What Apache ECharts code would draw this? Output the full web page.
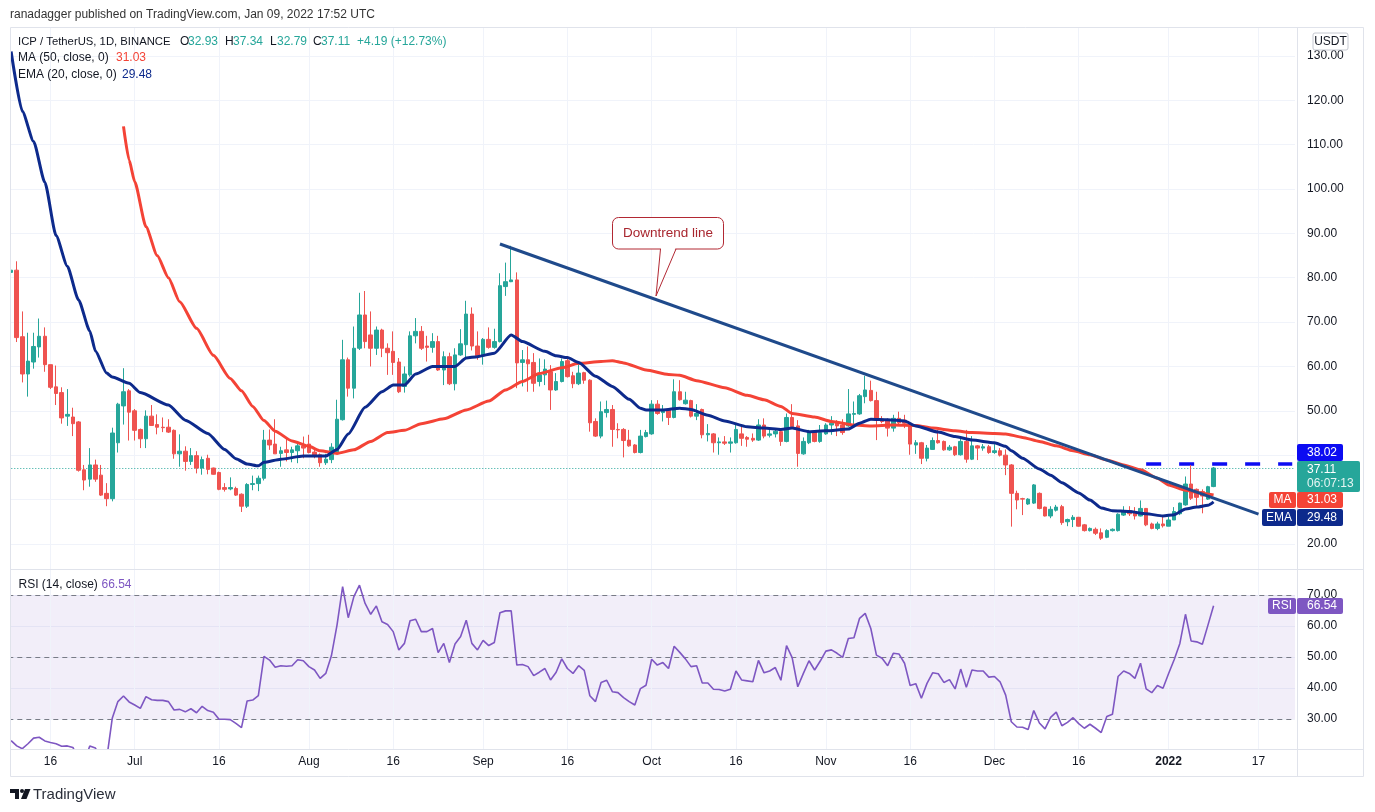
<!DOCTYPE html>
<html>
<head>
<meta charset="utf-8">
<title>ICP / TetherUS 1D</title>
<script src="https://cdn.jsdelivr.net/npm/echarts@6.0.0/dist/echarts.min.js"></script>
<style>
  html, body { margin: 0; padding: 0; background: #fff; }
  #chart { width: 1375px; height: 812px; }
</style>
</head>
<body>
<div id="chart"></div>
<script>
// day index 0 = 2021-06-09, last candle 2022-01-09 (index 214), axis runs on to 2022-01-23
const totalDays = 229;

// candles: [open, close, low, high]
const candles = [
  [81.2,81.7,77.3,89.0],[81.7,66.5,65.5,83.7],[66.7,58.3,56.4,72.4],[58.3,61.2,53.2,67.6],[61.0,64.5,59.5,67.6],
  [64.4,66.8,62.0,70.8],[66.8,60.4,58.8,68.8],[60.4,55.3,54.9,60.4],[55.4,53.9,51.3,60.2],[54.1,48.4,47.1,55.3],
  [48.8,49.2,46.6,54.9],[48.6,47.1,44.3,50.7],[47.5,36.6,36.3,47.7],[36.7,34.4,32.1,37.8],[34.6,37.8,32.9,41.6],
  [37.8,34.6,34.0,39.0],[35.5,31.0,30.8,37.8],[31.4,30.2,28.5,33.7],[30.2,45.0,29.6,46.2],[42.8,51.5,40.6,51.8],
  [51.1,54.3,46.9,59.6],[54.5,49.7,43.3,54.9],[50.0,45.6,43.3,50.4],[45.8,43.7,41.6,46.0],[43.7,48.8,41.6,50.1],
  [48.8,46.7,46.6,51.3],[46.9,46.3,44.7,49.2],[46.3,46.2,45.2,48.5],[46.3,45.2,45.0,48.1],[45.6,40.3,39.2,45.8],
  [40.3,40.9,37.4,44.7],[40.9,38.6,36.5,42.0],[38.6,39.9,37.8,41.6],[39.9,37.1,35.9,40.9],[37.1,39.0,35.6,39.7],
  [39.3,36.8,35.7,40.1],[37.1,35.7,35.6,37.2],[36.1,32.3,32.1,36.3],[32.7,32.3,31.8,33.7],[32.4,32.7,32.1,35.0],
  [32.5,31.0,30.8,32.9],[31.2,28.5,27.2,31.4],[28.5,33.4,28.1,33.7],[33.4,33.6,32.1,35.4],[33.6,34.8,31.9,35.4],
  [34.8,43.4,34.3,45.7],[43.4,42.3,41.2,45.8],[42.5,40.3,40.3,48.1],[40.4,41.0,37.4,41.9],[41.2,40.6,38.6,43.8],
  [40.6,41.2,38.4,41.9],[41.0,42.1,38.2,43.1],[42.1,41.6,39.3,44.2],[42.5,40.6,40.4,44.6],[40.7,39.8,39.3,41.2],
  [40.1,38.3,37.4,40.4],[38.3,39.1,37.8,40.3],[39.0,41.8,38.2,42.7],[40.6,48.1,40.4,52.5],[48.0,61.5,47.8,66.0],
  [61.5,55.1,53.2,62.0],[55.1,64.1,52.8,69.0],[64.1,71.6,63.7,76.6],[71.6,65.6,64.1,77.0],[67.1,64.1,60.0,72.4],
  [64.1,68.2,62.6,69.0],[68.2,64.1,62.1,68.5],[64.1,63.1,58.1,65.2],[63.4,60.9,58.1,67.9],[61.0,54.3,54.0,61.9],
  [55.5,58.3,54.1,60.0],[58.1,66.9,57.7,67.9],[66.9,67.9,65.2,70.9],[67.9,64.1,63.7,69.1],[64.6,64.3,61.1,66.9],
  [64.3,65.6,63.1,67.5],[65.6,59.2,59.0,66.9],[59.2,62.2,55.8,63.4],[62.2,56.1,55.8,63.1],[56.1,62.6,54.6,64.1],
  [62.6,65.1,62.4,68.4],[64.9,71.8,61.9,74.8],[71.8,64.6,63.6,73.3],[64.6,62.4,61.5,67.9],[62.4,66.1,60.4,66.4],
  [66.1,64.3,64.0,68.8],[64.3,65.6,64.0,68.5],[65.6,78.2,65.4,81.0],[78.0,79.1,75.9,83.4],[79.1,79.5,79.0,87.2],
  [79.5,60.8,55.1,81.2],[60.9,61.5,55.5,63.7],[61.5,60.6,54.3,64.5],[60.9,56.2,54.3,63.0],[56.6,58.1,55.5,61.8],
  [58.1,59.4,55.8,61.6],[58.8,54.7,50.2,60.3],[54.7,56.6,54.5,58.5],[56.6,61.1,56.4,61.8],[61.3,57.7,57.5,61.8],
  [57.9,56.1,55.1,58.8],[56.1,58.5,55.8,61.1],[58.6,56.9,56.1,58.8],[56.9,47.3,45.3,57.1],[47.6,44.3,44.1,48.3],
  [44.3,49.8,43.8,52.1],[49.6,50.3,48.5,52.3],[50.3,45.8,41.9,51.3],[45.8,45.7,43.8,47.2],[45.8,43.3,39.5,46.1],
  [43.4,42.1,41.9,45.7],[42.3,40.6,40.4,42.5],[40.6,44.3,40.4,45.7],[44.2,45.1,44.0,45.7],[44.8,51.5,44.6,52.4],
  [51.5,49.4,49.1,52.4],[49.6,50.3,47.6,51.3],[50.3,48.5,46.8,50.5],[48.5,54.3,48.3,57.1],[54.3,52.5,52.3,56.9],
  [51.6,52.4,51.4,54.3],[52.3,48.8,48.5,52.5],[48.8,49.4,47.9,51.5],[50.3,44.6,43.8,50.5],[44.6,44.9,43.1,47.0],
  [44.8,42.8,40.6,45.0],[42.8,43.0,40.1,44.0],[43.0,42.7,42.3,44.3],[42.7,43.0,40.6,44.0],[42.8,45.8,42.6,47.0],
  [44.8,43.8,42.1,46.4],[44.0,43.6,41.9,44.3],[43.8,43.4,43.0,44.9],[43.4,46.8,43.2,48.1],[46.8,44.3,43.8,48.3],
  [44.5,44.8,44.0,46.1],[44.8,45.4,44.0,46.1],[45.3,43.1,42.1,45.5],[43.1,48.5,42.9,49.4],[48.5,46.4,46.2,51.5],
  [46.6,40.4,37.4,47.9],[40.3,43.1,40.1,44.0],[42.8,45.3,42.5,45.7],[45.3,43.1,42.9,45.5],[43.1,45.1,42.8,46.8],
  [44.8,46.8,44.6,47.2],[46.8,47.2,44.6,48.8],[47.3,46.6,44.3,47.9],[46.8,45.1,44.6,48.1],[46.6,49.3,46.4,54.9],
  [49.2,49.4,46.4,52.1],[49.3,53.4,49.1,53.8],[53.2,54.7,51.7,57.9],[54.6,52.3,52.1,56.8],[52.3,47.9,43.4,54.3],
  [48.1,47.6,47.2,48.8],[47.8,46.1,44.2,48.3],[46.1,48.3,45.3,49.1],[48.3,47.3,46.8,49.8],[47.9,47.2,46.1,49.1],
  [47.2,42.5,40.1,47.4],[42.3,42.8,40.3,43.4],[42.8,39.3,38.0,43.0],[39.3,41.6,38.6,42.3],[41.3,43.3,41.2,44.0],
  [43.3,42.8,42.6,45.7],[43.1,41.2,41.0,43.3],[41.2,41.8,41.0,42.3],[41.9,40.1,39.8,42.1],[40.1,43.1,39.9,44.0],
  [43.1,39.1,38.3,45.7],[39.1,42.1,38.9,44.3],[42.1,41.6,38.9,42.3],[41.6,41.9,41.0,42.5],[41.9,40.6,40.3,42.3],
  [40.6,41.0,40.3,42.5],[41.0,40.0,39.7,41.6],[40.0,37.8,35.5,41.3],[37.8,31.4,23.9,38.0],[31.4,29.9,27.8,32.0],
  [30.2,30.1,26.5,30.4],[29.0,30.1,28.8,30.3],[29.2,33.3,29.0,33.5],[31.4,28.0,27.8,31.6],[28.3,26.3,26.2,28.4],
  [26.3,27.8,25.8,28.5],[27.6,28.3,27.3,28.8],[28.4,24.8,24.3,28.8],[25.0,25.5,24.0,25.7],[25.5,26.0,23.8,26.5],
  [26.0,24.0,23.9,26.1],[24.3,23.0,22.8,24.5],[23.0,23.5,22.8,23.7],[23.3,22.4,22.0,23.7],[22.5,21.3,20.9,23.5],
  [21.5,23.0,21.3,23.3],[23.0,23.3,22.8,23.5],[23.0,26.7,22.8,26.9],[26.5,27.5,26.3,28.5],[27.5,26.8,26.3,28.5],
  [27.3,26.3,25.5,28.3],[26.3,28.0,26.2,29.8],[28.0,24.3,24.0,28.1],[24.5,23.5,23.3,24.8],[23.5,24.5,23.1,25.0],
  [24.5,24.1,23.7,26.5],[24.0,25.4,24.0,26.2],[25.4,27.3,25.4,28.3],[26.8,29.2,26.5,29.3],[28.8,33.5,28.6,35.2],
  [33.5,30.3,29.9,37.8],[32.3,30.5,28.6,32.5],[31.8,30.8,26.9,32.3],[30.1,32.9,29.9,33.1],[32.93,37.11,32.79,37.34]
];

// MA (50, close): [day index, value]
const maLine = [
  [20,114.1],[21,106.5],[22,101.6],[24,91.5],[26,85.0],[28,80.0],[30,74.6],[33,68.6],[36,62.5],[39,57.3],
  [41,54.5],[43,51.0],[45,47.8],[47,45.4],[50,43.2],[53,42.0],[55,41.0],[58,40.4],[61,41.2],[64,43.1],
  [67,45.1],[70,45.6],[73,47.1],[77,48.2],[81,50.2],[85,52.2],[88,54.7],[91,56.6],[94,58.4],[98,59.7],
  [101,60.7],[105,61.1],[107,61.3],[109,60.8],[113,59.2],[117,58.2],[119,58.0],[122,56.8],[127,55.2],[131,53.5],
  [134,52.5],[137,51.0],[139,49.4],[143,48.6],[146,47.6],[150,46.8],[153,46.6],[157,46.8],[161,46.7],[164,46.1],
  [168,45.5],[171,45.1],[175,44.9],[177,44.8],[180,44.0],[183,43.1],[186,42.1],[189,41.0],[192,40.1],[195,38.9],
  [198,37.8],[201,36.7],[204,34.8],[206,33.3],[209,32.1],[211,31.6],[214,31.03]
];

// EMA (20, close): [day index, value]
const emaLine = [
  [0,131.0],[2,117.5],[4,110.7],[6,101.5],[8,89.5],[10,82.6],[12,75.0],[14,68.0],[15,63.5],[17,58.5],
  [18,57.6],[21,56.2],[23,54.1],[28,51.3],[31,47.9],[35,44.9],[38,41.3],[40,39.2],[42,38.0],[44,37.6],
  [45,38.4],[48,39.1],[52,39.8],[56,39.8],[58,41.3],[60,44.8],[63,50.8],[66,54.3],[68,55.8],[70,55.8],
  [72,58.3],[75,60.0],[79,60.0],[81,61.9],[83,62.2],[86,63.0],[89,67.1],[91,65.6],[95,63.4],[97,62.4],
  [99,62.0],[101,60.9],[104,57.8],[107,55.5],[110,52.6],[112,50.6],[113,50.2],[116,50.2],[119,50.6],[121,50.3],
  [124,49.0],[127,47.7],[131,46.4],[134,46.1],[137,45.8],[139,46.1],[142,45.3],[145,45.5],[149,45.9],[151,47.2],
  [153,48.1],[156,48.0],[159,47.7],[161,46.6],[165,45.2],[168,44.2],[171,43.4],[175,42.8],[177,42.0],[178,41.0],
  [180,39.3],[183,36.9],[185,35.5],[187,33.8],[190,31.5],[192,29.9],[194,28.1],[196,27.5],[199,27.3],[202,26.8],
  [205,26.3],[207,26.6],[209,27.9],[211,28.3],[213,28.7],[214,29.48]
];

// RSI (14, close), one value per candle
const rsiValues = [
  23.0,21.3,20.4,22.0,23.8,24.1,22.9,22.4,22.0,21.2,21.3,20.8,17.0,16.0,21.3,20.6,17.5,17.0,
  30.2,35.6,37.4,35.5,34.5,33.4,37.2,36.2,36.0,36.0,35.6,32.9,33.1,32.3,33.3,32.0,34.1,32.7,32.2,29.9,29.9,29.8,28.6,27.2,35.8,36.1,37.5,
  50.2,49.0,46.7,47.2,47.0,47.2,49.1,48.8,46.9,45.8,43.1,44.7,50.4,60.3,72.7,62.7,69.5,73.2,67.3,63.8,
  66.5,61.4,60.5,58.2,52.3,54.4,61.7,62.2,58.2,58.2,59.2,51.4,54.4,48.2,54.2,56.6,61.9,54.4,52.3,55.4,53.7,54.7,64.3,64.9,64.9,
  47.4,47.6,46.9,44.0,45.1,46.3,42.6,45.1,49.4,46.3,44.7,47.2,45.7,37.5,35.6,41.8,42.5,38.8,38.5,36.9,35.6,34.5,
  39.8,40.9,49.3,47.4,48.2,46.3,53.5,51.5,49.4,46.9,
  47.2,41.6,41.6,39.6,39.5,39.0,39.6,45.5,42.6,42.3,
  42.0,48.9,44.9,45.5,46.6,42.5,53.7,49.8,40.4,44.7,
  48.8,45.8,48.7,51.9,52.3,51.2,49.9,56.0,56.2,62.5,
  64.1,59.2,50.6,49.6,47.2,51.2,51.0,48.0,40.8,41.4,
  36.7,41.5,44.9,44.6,41.8,42.7,39.7,46.1,40.2,45.8,
  45.5,45.5,43.5,43.7,42.0,37.7,29.1,27.4,27.3,26.6,
  32.7,28.7,26.8,30.5,32.2,27.8,28.9,30.4,28.5,27.0,
  28.3,27.0,25.6,30.8,31.5,43.7,45.5,44.7,43.1,48.0,
  39.7,38.5,40.8,39.9,44.7,49.2,54.4,63.8,55.2,54.9,
  54.1,60.3,66.54
];

// hand-drawn downtrend line, two anchor points
const trendLine = [[87, 87.6], [222, 26.7]];
const resistance = 38.02;
const lastPrice = 37.11;

const tickDays = [7, 22, 37, 53, 68, 84, 99, 114, 129, 145, 160, 175, 190, 206, 222];
const tickLabels = ['16', 'Jul', '16', 'Aug', '16', 'Sep', '16', 'Oct', '16', 'Nov', '16', 'Dec', '16', '2022', '17'];
const priceGrid = [20, 30, 40, 50, 60, 70, 80, 90, 100, 110, 120, 130];
const priceLabels = [20, 50, 60, 70, 80, 90, 100, 110, 120, 130];
const rsiTicks = [30, 40, 50, 60, 70];

const UP = '#26a69a', DOWN = '#ef5350';
const MA_COLOR = '#f44336', EMA_COLOR = '#0d2a8c', RSI_COLOR = '#7e57c2';
const GRID_COLOR = '#f0f3fa', TEXT = '#131722';
const FONT = '"Liberation Sans", Arial, sans-serif';

const categories = [];
for (let i = 0; i < totalDays; i++) {
  const t = new Date(Date.UTC(2021, 5, 9 + i));
  categories.push(t.toISOString().slice(0, 10));
}

const chart = echarts.init(document.getElementById('chart'));

function txt(x, y, text, fill, opts) {
  opts = opts || {};
  return {
    type: 'text', x: x, y: y, z: 100,
    style: {
      text: text, fill: fill,
      font: (opts.weight || 'normal') + ' ' + (opts.size || 12) + 'px ' + FONT,
      align: opts.align || 'left', verticalAlign: 'middle'
    }
  };
}
function box(x, y, w, h, fill, stroke) {
  return {
    type: 'rect', z: 99,
    shape: { x: x, y: y, width: w, height: h, r: 2 },
    style: { fill: fill, stroke: stroke || null }
  };
}
function seg(x1, y1, x2, y2, color, width, z) {
  return { type: 'line', z: z || 98, shape: { x1: x1, y1: y1, x2: x2, y2: y2 }, style: { stroke: color, lineWidth: width || 1 } };
}
function poly(points, fill, z) {
  return { type: 'polygon', z: z || 99, shape: { points: points }, style: { fill: fill } };
}

const graphics = [
  // mask the sliver left of the frame
  { type: 'rect', z: 97, shape: { x: 0, y: 27, width: 10.5, height: 750 }, style: { fill: '#fff' } },
  txt(10, 15, 'ranadagger published on TradingView.com, Jan 09, 2022 17:52 UTC', '#333'),
  { type: 'rect', z: 98, shape: { x: 10.5, y: 27.5, width: 1353, height: 749 }, style: { fill: null, stroke: '#e0e3eb' } },
  seg(10, 569.5, 1364, 569.5, '#e0e3eb'),
  seg(10, 749.5, 1364, 749.5, '#e0e3eb'),
  seg(1297.5, 27, 1297.5, 777, '#e0e3eb'),

  // legend
  txt(18, 42, 'ICP / TetherUS, 1D, BINANCE', TEXT, { size: 11.3 }),
  txt(180, 42, 'O', TEXT), txt(188, 42, '32.93', UP),
  txt(225, 42, 'H', TEXT), txt(233, 42, '37.34', UP),
  txt(270, 42, 'L', TEXT), txt(277, 42, '32.79', UP),
  txt(313, 42, 'C', TEXT), txt(321, 42, '37.11', UP),
  txt(357, 42, '+4.19 (+12.73%)', UP),
  txt(18, 58, 'MA (50, close, 0)', TEXT), txt(116, 58, '31.03', MA_COLOR),
  txt(18, 74.5, 'EMA (20, close, 0)', TEXT), txt(122, 74.5, '29.48', EMA_COLOR),
  txt(18.5, 585, 'RSI (14, close)', TEXT), txt(101.5, 585, '66.54', RSI_COLOR),

  // price scale badges
  box(1313, 33, 35, 17, '#fff', '#c5c8d0'), txt(1330.5, 41.5, 'USDT', TEXT, { align: 'center' }),
  box(1297, 444, 46, 17, '#0c0cf2'), txt(1307, 452.5, '38.02', '#fff'),
  box(1297, 461, 63, 31, UP), txt(1307, 469.5, '37.11', '#fff'), txt(1307, 484, '06:07:13', '#e6f5f3'),
  box(1269, 492, 27, 16, MA_COLOR), txt(1282.5, 500, 'MA', '#fff', { align: 'center' }),
  box(1297, 492, 46, 16, MA_COLOR), txt(1307, 500, '31.03', '#fff'),
  box(1262, 509, 34, 17, EMA_COLOR), txt(1279, 517.5, 'EMA', '#fff', { align: 'center' }),
  box(1297, 509, 46, 17, EMA_COLOR), txt(1307, 517.5, '29.48', '#fff'),
  box(1268, 598, 28, 16, RSI_COLOR), txt(1282, 606, 'RSI', '#fff', { align: 'center' }),
  box(1297, 598, 46, 16, RSI_COLOR), txt(1307, 606, '66.54', '#fff'),

  // callout
  { type: 'rect', z: 99, shape: { x: 612.5, y: 217.5, width: 111, height: 31.5, r: 6 }, style: { fill: '#fff', stroke: '#b22833', lineWidth: 1 } },
  poly([[661, 248], [675.5, 248], [656.5, 294]], '#fff', 100),
  { type: 'polyline', z: 101, shape: { points: [[660.5, 249], [656, 296], [676, 249]] }, style: { stroke: '#b22833', lineWidth: 1, fill: null } },
  txt(668, 233.5, 'Downtrend line', '#a8262f', { align: 'center', size: 13.5 }),

  // footer logo
  poly([[10, 789], [19, 789], [19, 799], [15, 799], [15, 793], [10, 793]], '#131722'),
  { type: 'circle', z: 99, shape: { cx: 22, cy: 791, r: 2 }, style: { fill: '#131722' } },
  poly([[25, 789], [30.5, 789], [26.5, 799], [21, 799]], '#131722'),
  txt(33, 795, 'TradingView', '#2a2e39', { size: 15 })
];

const vGrid = tickDays.map(d => ({ xAxis: d }));

chart.setOption({
  animation: false,
  backgroundColor: '#fff',
  textStyle: { fontFamily: FONT },
  grid: [
    { left: 8.3, top: 27, width: 1286.75, height: 542, outerBoundsMode: 'none' },
    { left: 8.3, top: 570, width: 1286.75, height: 179, outerBoundsMode: 'none' }
  ],
  xAxis: [
    {
      type: 'category', gridIndex: 0, data: categories, boundaryGap: true,
      axisLine: { show: false }, axisTick: { show: false }, axisLabel: { show: false }, splitLine: { show: false }
    },
    {
      type: 'category', gridIndex: 1, data: categories, boundaryGap: true,
      axisLine: { show: false }, axisTick: { show: false }, splitLine: { show: false },
      axisLabel: {
        color: TEXT, fontSize: 12, margin: 7, fontFamily: FONT,
        interval: (index) => tickDays.includes(index),
        formatter: (value, index) => {
          const k = tickDays.indexOf(index);
          if (k < 0) return '';
          return tickLabels[k] === '2022' ? '{b|2022}' : tickLabels[k];
        },
        rich: { b: { fontWeight: 'bold', fontSize: 12, color: TEXT, fontFamily: FONT } }
      }
    }
  ],
  yAxis: [
    {
      type: 'value', gridIndex: 0, position: 'right', min: 14.35, max: 136.5,
      axisLine: { show: false },
      axisTick: { show: false, customValues: priceGrid },
      axisLabel: {
        customValues: priceLabels, color: TEXT, fontSize: 12, margin: 12, align: 'left',
        formatter: v => v.toFixed(2)
      },
      splitLine: { show: true, lineStyle: { color: GRID_COLOR, width: 1 } }
    },
    {
      type: 'value', gridIndex: 1, position: 'right', min: 20.3, max: 78.1,
      axisLine: { show: false },
      axisTick: { show: false, customValues: rsiTicks },
      axisLabel: {
        customValues: rsiTicks, color: TEXT, fontSize: 12, margin: 12, align: 'left',
        formatter: v => v.toFixed(2)
      },
      splitLine: { show: true, lineStyle: { color: GRID_COLOR, width: 1 } }
    }
  ],
  series: [
    {
      name: 'gridTop', type: 'line', xAxisIndex: 0, yAxisIndex: 0, data: [], silent: true,
      markLine: {
        z: 1, silent: true, symbol: 'none', label: { show: false },
        lineStyle: { color: GRID_COLOR, width: 1, type: 'solid' },
        data: vGrid
      }
    },
    {
      name: 'ICP', type: 'candlestick', xAxisIndex: 0, yAxisIndex: 0, data: candles, barWidth: 4, z: 2,
      itemStyle: { color: UP, color0: DOWN, borderColor: UP, borderColor0: DOWN, borderWidth: 1 },
      markLine: {
        z: 2, silent: true, symbol: 'none', label: { show: false },
        data: [
          { yAxis: lastPrice, lineStyle: { color: UP, width: 1, type: [1, 2] } },
          [
            { coord: [202, resistance], lineStyle: { color: '#0c0cf2', width: 3.5, type: [15, 18] } },
            { coord: [228, resistance] }
          ]
        ]
      }
    },
    {
      name: 'MA', type: 'line', xAxisIndex: 0, yAxisIndex: 0, data: maLine, z: 3,
      showSymbol: false, smooth: 0.2, smoothMonotone: 'x',
      lineStyle: { color: MA_COLOR, width: 3 }
    },
    {
      name: 'EMA', type: 'line', xAxisIndex: 0, yAxisIndex: 0, data: emaLine, z: 4,
      showSymbol: false, smooth: 0.2, smoothMonotone: 'x',
      lineStyle: { color: EMA_COLOR, width: 3 }
    },
    {
      name: 'Downtrend', type: 'line', xAxisIndex: 0, yAxisIndex: 0, data: trendLine, z: 5,
      showSymbol: false, lineStyle: { color: '#1f4a8b', width: 3 }
    },
    {
      name: 'gridRsi', type: 'line', xAxisIndex: 1, yAxisIndex: 1, data: [], silent: true,
      markArea: {
        z: 0, silent: true,
        itemStyle: { color: 'rgba(126,87,194,0.1)' },
        data: [[{ yAxis: 30 }, { yAxis: 70 }]]
      },
      markLine: {
        z: 1, silent: true, symbol: 'none', label: { show: false },
        lineStyle: { color: GRID_COLOR, width: 1, type: 'solid' },
        data: vGrid.concat([30, 50, 70].map(v => ({ yAxis: v, lineStyle: { color: '#787b86', width: 1, type: [5, 4] } })))
      }
    },
    {
      name: 'RSI', type: 'line', xAxisIndex: 1, yAxisIndex: 1, data: rsiValues, z: 3,
      showSymbol: false, lineStyle: { color: RSI_COLOR, width: 1.6 }
    }
  ],
  graphic: graphics
});

window.addEventListener('resize', function () { chart.resize(); });
</script>
</body>
</html>
